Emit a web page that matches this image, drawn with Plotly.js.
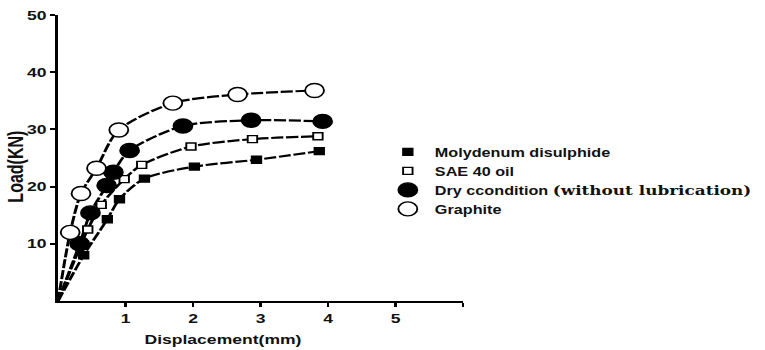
<!DOCTYPE html>
<html>
<head>
<meta charset="utf-8">
<script src="https://cdn.plot.ly/plotly-3.0.1.min.js"></script>
<style>
html,body{margin:0;padding:0;background:#fff;overflow:hidden;width:765px;height:350px}
#chart{width:610px;height:350px;transform:scaleX(1.35);transform-origin:0 0}
</style>
</head>
<body>
<div id="chart"></div>
<script>
// Series data (Displacement mm, Load KN); first point is the origin
const molyX = [0, 0.38, 0.73, 0.91, 1.28, 2.02, 2.94, 3.87];
const molyY = [0, 8.0, 14.3, 17.8, 21.4, 23.5, 24.7, 26.2];
const saeX = [0, 0.44, 0.64, 0.98, 1.24, 1.97, 2.88, 3.85];
const saeY = [0, 12.5, 16.8, 21.3, 23.8, 27.0, 28.3, 28.8];
const dryX = [0, 0.32, 0.48, 0.72, 0.82, 1.06, 1.85, 2.86, 3.92];
const dryY = [0, 10.0, 15.4, 20.2, 22.5, 26.3, 30.6, 31.6, 31.4];
const graX = [0, 0.18, 0.34, 0.57, 0.9, 1.7, 2.66, 3.8];
const graY = [0, 12.0, 18.8, 23.2, 29.9, 34.6, 36.1, 36.8];

const names = [
  '<b>Molydenum disulphide</b>',
  '<b>SAE 40 oil</b>',
  '<b>Dry ccondition </b><span style="font-family:\'DejaVu Serif\',serif;font-size:12.5px"><b>(without lubrication)</b></span>',
  '<b>Graphite</b>'
];
const xTicks = [1, 2, 3, 4, 5, 6];
const xTickText = ['1', '2', '3', '4', '5', ''];
const yTicks = [10, 20, 30, 40, 50];
const xTitle = 'Displacement(mm)';
const yTitle = 'Load(KN)';

const series = [
  {x: molyX, y: molyY, sym: 'square', size: 7},
  {x: saeX, y: saeY, sym: 'square-open', size: 7},
  {x: dryX, y: dryY, sym: 'circle', size: 14},
  {x: graX, y: graY, sym: 'circle-open', size: 14}
];

const traces = [];
series.forEach((s) => {
  traces.push({
    x: s.x, y: s.y, mode: 'lines', type: 'scatter', showlegend: false,
    line: {color: '#000', width: 2.2, shape: 'spline', smoothing: 0.8, dash: '9px,2px'},
    hoverinfo: 'skip'
  });
});
series.forEach((s, i) => {
  const isOpen = s.sym.indexOf('open') >= 0;
  traces.push({
    x: s.x.slice(1), y: s.y.slice(1), mode: 'markers', type: 'scatter', name: names[i],
    marker: {
      symbol: isOpen ? s.sym.replace('-open', '') : s.sym,
      size: s.size,
      color: isOpen ? '#fff' : '#000',
      line: {color: '#000', width: 1.4}
    }
  });
});

const FONT = 'Liberation Sans, Arial, sans-serif';
const layout = {
  width: 610, height: 350,
  margin: {l: 43, r: 267, t: 15, b: 49},
  paper_bgcolor: '#fff', plot_bgcolor: '#fff',
  font: {family: FONT, color: '#111', size: 13},
  showlegend: true,
  legend: {
    x: 0.797, y: 0.572, xanchor: 'left', yanchor: 'top',
    bgcolor: 'rgba(0,0,0,0)', borderwidth: 0,
    font: {family: FONT, size: 12, color: '#111'},
    itemsizing: 'trace', tracegroupgap: 0
  },
  xaxis: {
    range: [0, 6], tickvals: xTicks, ticktext: xTickText,
    showgrid: false, zeroline: false, showline: true, linecolor: '#000', linewidth: 2,
    ticks: 'outside', ticklen: 4, tickwidth: 2, tickcolor: '#000',
    tickfont: {size: 13, color: '#111', family: FONT, weight: 'bold'}
  },
  yaxis: {
    range: [0, 50], tickvals: yTicks, ticktext: yTicks.map(String),
    showgrid: false, zeroline: false, showline: true, linecolor: '#000', linewidth: 2,
    ticks: 'outside', ticklen: 4, tickwidth: 2, tickcolor: '#000',
    tickfont: {size: 13, color: '#111', family: FONT, weight: 'bold'}
  },
  annotations: [{
    text: '<b>' + yTitle + '</b>', textangle: -90, showarrow: false,
    xref: 'paper', yref: 'paper', x: -0.105, y: 0.468, xanchor: 'center', yanchor: 'middle',
    font: {size: 16, color: '#111', family: FONT}
  }, {
    text: '<b>' + xTitle + '</b>', showarrow: false,
    xref: 'paper', yref: 'paper', x: 0.407, y: -0.136, xanchor: 'center', yanchor: 'middle',
    font: {size: 13, color: '#111', family: FONT}
  }]
};

Plotly.newPlot('chart', traces, layout, {displayModeBar: false, staticPlot: true});
</script>
</body>
</html>
